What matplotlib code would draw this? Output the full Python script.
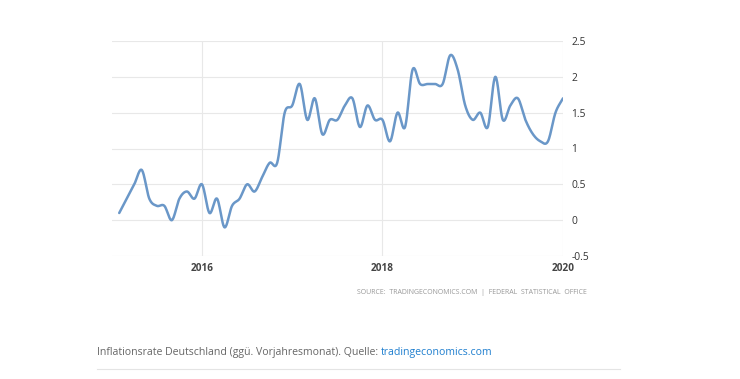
import numpy as np
import matplotlib
matplotlib.use('Agg')
import matplotlib.pyplot as plt

# Inflationsrate Deutschland, monatlich, Feb 2015 .. Jan 2020
months = list(range(1, 61))          # Monate nach Jan 2015
values = [0.1, 0.3, 0.5, 0.7, 0.3, 0.2, 0.2, 0.0, 0.3, 0.4, 0.3,
          0.5, 0.1, 0.3, -0.1, 0.2, 0.3, 0.5, 0.4, 0.6, 0.8, 0.8, 1.5,
          1.6, 1.9, 1.4, 1.7, 1.2, 1.4, 1.4, 1.6, 1.7, 1.3, 1.6,
          1.4, 1.4, 1.1, 1.5, 1.3, 2.1, 1.9, 1.9, 1.9, 1.9, 2.3, 2.1,
          1.6, 1.4, 1.5, 1.3, 2.0, 1.4, 1.6, 1.7, 1.4, 1.2, 1.1, 1.1,
          1.5, 1.7]
year_ticks = [2016, 2018, 2020]
y_ticks = [-0.5, 0, 0.5, 1, 1.5, 2, 2.5]
y_labels = ['-0.5', '0', '0.5', '1', '1.5', '2', '2.5']

LINE = '#6a97c8'
GRID = '#e8e8e8'


def spline(x, y, n=20):
    """Catmull-Rom artige Glättung wie im Highcharts-Spline"""
    x = np.asarray(x, float)
    y = np.asarray(y, float)
    m = np.zeros_like(y)
    m[1:-1] = (y[2:] - y[:-2]) / (x[2:] - x[:-2])
    m[0] = (y[1] - y[0]) / (x[1] - x[0])
    m[-1] = (y[-1] - y[-2]) / (x[-1] - x[-2])
    xs, ys = [], []
    for i in range(len(x) - 1):
        h = x[i + 1] - x[i]
        t = np.linspace(0, 1, n, endpoint=False)
        h00 = 2 * t**3 - 3 * t**2 + 1
        h10 = t**3 - 2 * t**2 + t
        h01 = -2 * t**3 + 3 * t**2
        h11 = t**3 - t**2
        xs.append(x[i] + t * h)
        ys.append(h00 * y[i] + h10 * h * m[i] + h01 * y[i + 1] + h11 * h * m[i + 1])
    xs.append([x[-1]])
    ys.append([y[-1]])
    return np.concatenate(xs), np.concatenate(ys)


plt.rcParams['font.family'] = ['Open Sans', 'DejaVu Sans']

fig = plt.figure(figsize=(7.4, 3.79), dpi=100)
ax = fig.add_axes([111.7 / 740, 1 - 256 / 379, (563 - 111.7) / 740, (256 - 41) / 379])

x = [2015 + mo / 12 for mo in months]
sx, sy = spline(x, values)
ax.plot(sx, sy, color=LINE, lw=1.8, solid_capstyle='round', zorder=3)

ax.set_xlim(2015.0, 2020.0)
ax.set_ylim(-0.5, 2.5)
ax.set_xticks(year_ticks)
ax.set_xticklabels([str(t) for t in year_ticks], fontsize=7.2,
                   fontweight='bold', color='#444444')
ax.set_yticks(y_ticks)
ax.set_yticklabels(y_labels, fontsize=7.4, color='#333333')
ax.yaxis.tick_right()
ax.tick_params(axis='both', length=0)
ax.tick_params(axis='x', pad=5)
ax.tick_params(axis='y', pad=6)
ax.grid(True, color=GRID, lw=0.8)
for s in ax.spines.values():
    s.set_visible(False)

fig.text(587 / 740, 1 - 293 / 379,
         'SOURCE:  TRADINGECONOMICS.COM  |  FEDERAL  STATISTICAL  OFFICE',
         ha='right', va='center', fontsize=5.0, color='#999999')

cap = fig.text(97 / 740, 1 - 352 / 379,
               'Inflationsrate Deutschland (ggü. Vorjahresmonat). Quelle: ',
               ha='left', va='center', fontsize=7.6, color='#666666')
fig.canvas.draw()
bb = cap.get_window_extent()
fig.text(bb.x1 / 740, 1 - 352 / 379, 'tradingeconomics.com',
         ha='left', va='center', fontsize=7.6, color='#1f7fcf')

fig.add_artist(plt.Line2D([97 / 740, 620 / 740], [1 - 369 / 379] * 2,
                          color='#e4e4e4', lw=0.8))

fig.savefig('out.png', dpi=100)
